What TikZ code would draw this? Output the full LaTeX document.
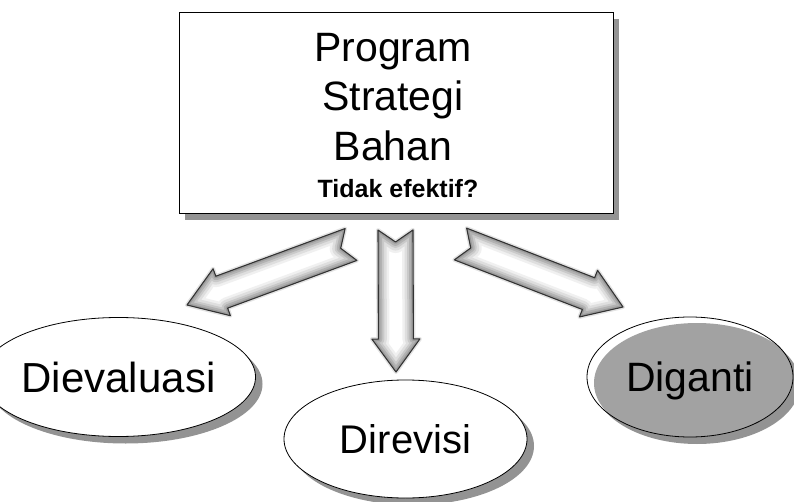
\documentclass[tikz,border=0pt]{standalone}
\usepackage{fontspec}
\setmainfont{Liberation Sans}
\usetikzlibrary{shapes.geometric,shadows,calc}
\definecolor{shadowgray}{HTML}{939393}
\definecolor{fillgray}{HTML}{A2A2A2}
\tikzset{
  outlined/.style={draw=black, line width=0.8pt, fill=white},
  boxshadow/.style={general shadow={fill=shadowgray, shadow xshift=6pt, shadow yshift=-7pt}},
  ellshadow/.style={general shadow={fill=shadowgray, shadow xshift=7pt, shadow yshift=-7pt}},
  bigtext/.style={font=\fontsize{41}{49}\selectfont, inner sep=0pt, anchor=base},
  ellnode/.style={ellipse, outlined, ellshadow, inner sep=0pt},
}
% name, tail, tip, head length, shaft half width, head half width, notch depth
\newcommand\defarrow[7]{%
  \coordinate (#1-t) at #2;
  \coordinate (#1-p) at #3;
  \coordinate (#1-h) at ($(#1-p)!#4!(#1-t)$);
  \coordinate (#1-a1) at ($(#1-t)!#5!90:(#1-p)$);
  \coordinate (#1-a2) at ($(#1-t)!#5!-90:(#1-p)$);
  \coordinate (#1-j1) at ($(#1-h)!#5!90:(#1-p)$);
  \coordinate (#1-j2) at ($(#1-h)!#5!-90:(#1-p)$);
  \coordinate (#1-b1) at ($(#1-h)!#6!90:(#1-p)$);
  \coordinate (#1-b2) at ($(#1-h)!#6!-90:(#1-p)$);
  \coordinate (#1-n) at ($(#1-t)!#7!(#1-p)$);
}
\newcommand\apath[1]{(#1-a1) -- (#1-j1) -- (#1-b1) -- (#1-p) -- (#1-b2) -- (#1-j2) -- (#1-a2) -- (#1-n) -- cycle}
\newcommand\drawblockarrow[1]{%
  \draw[gray!22, line width=4pt, line join=round] \apath{#1};
  \begin{scope}
    \clip \apath{#1};
    \fill[white] \apath{#1};
    \draw[line width=22pt, gray!12, line join=round] \apath{#1};
    \draw[line width=17pt, gray!26, line join=round] \apath{#1};
    \draw[line width=12pt, gray!42, line join=round] \apath{#1};
    \draw[line width=8pt, gray!60, line join=round] \apath{#1};
    \draw[line width=4pt, gray!78, line join=round] \apath{#1};
  \end{scope}
  \draw[black!80, line width=1.1pt, line join=round] \apath{#1};
}
\begin{document}
\begin{tikzpicture}[x=1pt, y=-1pt]
\useasboundingbox (0,0) rectangle (794,502);

% top box
\node[rectangle, outlined, boxshadow, minimum width=434pt, minimum height=201pt, inner sep=0pt] (box) at (396,112.5) {};
\node[bigtext] (l1) at (393,62) {Program};
\node[bigtext] (l2) at (393,111) {Strategi};
\node[bigtext] (l3) at (393,161) {Bahan};
\node[font=\bfseries\fontsize{25}{30}\selectfont, inner sep=0pt, anchor=base] (l4) at (398,198) {Tidak efektif?};

% block arrows
\defarrow{la}{(351,244.5)}{(187,305)}{37pt}{17pt}{25pt}{11pt}
\defarrow{ma}{(395.5,230)}{(396,372)}{33pt}{17.5pt}{24pt}{12pt}
\defarrow{ra}{(460.5,244)}{(623,307)}{37pt}{17pt}{25pt}{11pt}
\drawblockarrow{la}
\drawblockarrow{ma}
\drawblockarrow{ra}

% ellipses
\node[ellnode, minimum width=213pt, minimum height=119pt, font=\fontsize{42}{50}\selectfont] (eval) at (118.5,377) {Dievaluasi};
\node[ellnode, minimum width=243pt, minimum height=118pt, font=\fontsize{40}{48}\selectfont] (rev) at (405.5,439) {Direvisi};
\node[ellnode, minimum width=206pt, minimum height=120pt, text depth=0pt, font=\fontsize{41}{49}\selectfont,
  path picture={\fill[fillgray] ([xshift=7pt,yshift=-6pt]path picture bounding box.center) ellipse [x radius=103pt, y radius=60pt];}] (gan) at (690,377) {Diganti};
\end{tikzpicture}
\end{document}
